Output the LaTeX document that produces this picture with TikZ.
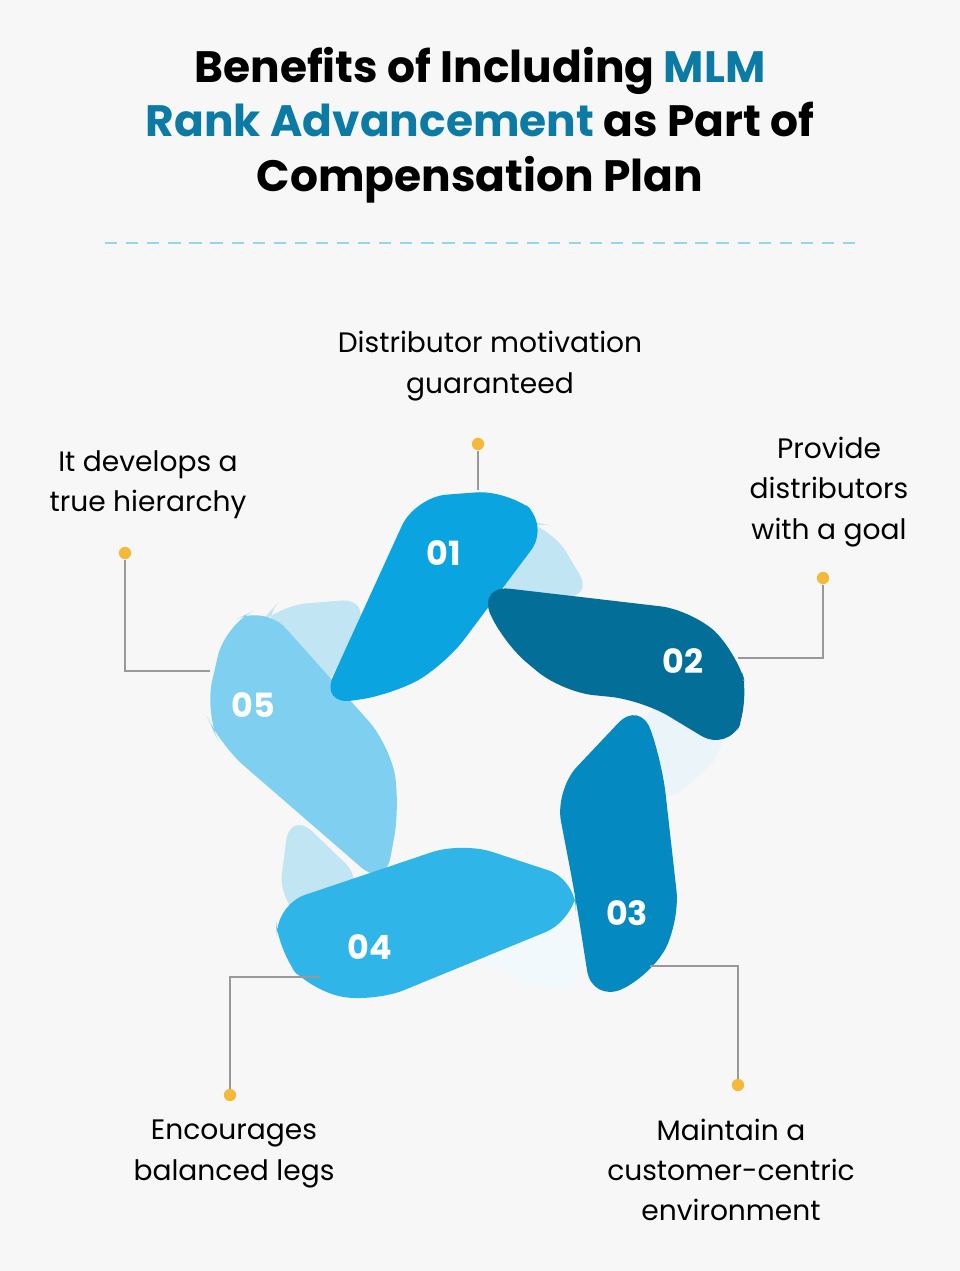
\documentclass[tikz,border=0pt]{standalone}
\usepackage{fontspec}
\setmainfont{Poppins}
\usetikzlibrary{positioning}
\definecolor{bgcol}{HTML}{F7F7F7}
\definecolor{rankblue}{HTML}{0B7BA6}
\definecolor{bandA}{HTML}{0AA5E0}
\definecolor{bandB}{HTML}{036F99}
\definecolor{bandC}{HTML}{0589C1}
\definecolor{bandD}{HTML}{2FB5E8}
\definecolor{bandE}{HTML}{7FD0F0}
\definecolor{backcol}{HTML}{C2E5F3}
\definecolor{dotcol}{HTML}{F5B93A}
\tikzset{
  band/.style={rounded corners=18pt, draw=none},
  num/.style={text=white, font=\bfseries\fontsize{19}{22}\selectfont},
  label/.style={align=center, font=\fontsize{16}{23}\selectfont},
  lead/.style={draw=gray!80, line width=0.8pt},
  dot/.style={circle, fill=dotcol, inner sep=0pt, minimum size=7pt}
}
\begin{document}
\begin{tikzpicture}[x=0.02cm, y=-0.02cm]
    % Background
    \fill[bgcol] (0,0) rectangle (960,1271);
    \useasboundingbox (0,0) rectangle (960,1271);

    % Title
    \node[align=center, font=\bfseries\fontsize{25}{31}\selectfont] (title) at (480,125)
      {Benefits of Including \textcolor{rankblue}{MLM}\\
       \textcolor{rankblue}{Rank Advancement} as Part of\\
       Compensation Plan};
    \draw[dashed, line width=1.5pt, color=bandA!45, dash pattern=on 7pt off 5pt] (105,243) -- (855,243);

    % Back parts of the ribbons
    \fill[backcol, band] (480,585) -- (520,520) -- (550,525) -- (595,600) -- cycle;
    \fill[backcol, band] (258,625) -- (275,606) -- (372,598) -- (320,700) -- cycle;
    \fill[backcol!80!bandB!20, band] (640,700) -- (722,712) -- (730,748) -- (660,810) -- cycle;
    \fill[backcol!85!bandC!15, band] (470,955) -- (560,905) -- (582,940) -- (585,985) -- (555,997) -- cycle;
    \fill[backcol, band] (290,810) -- (368,885) -- (312,925) -- (278,905) -- cycle;

    % Ribbons
    \fill[bandE, band] (205,712) -- (225,625) -- (265,605) -- (390,745) -- (400,805) -- (385,888) -- (220,745) -- cycle;
    \fill[bandA, band] (320,705) -- (415,497) -- (508,490) -- (550,525) -- (445,665) -- (392,695) -- cycle;
    \fill[bandD, band] (275,905) -- (462,842) -- (578,880) -- (575,920) -- (375,1002) -- (312,992) -- (278,952) -- cycle;
    \fill[bandC, band] (555,790) -- (640,700) -- (662,762) -- (680,922) -- (650,977) -- (592,1002) -- (576,900) -- cycle;
    \fill[bandB, band] (478,585) -- (692,610) -- (737,652) -- (750,702) -- (728,752) -- (642,700) -- (562,692) -- (502,642) -- cycle;

    % Numbers
    \node[num] (n1) at (444,553) {01};
    \node[num] (n2) at (683,661) {02};
    \node[num] (n3) at (627,913) {03};
    \node[num] (n4) at (370,947) {04};
    \node[num] (n5) at (253,705) {05};

    % Callout points
    \coordinate (e1) at (478,490);
    \coordinate (e2) at (738,658);
    \coordinate (e3) at (650,966);
    \coordinate (e4) at (320,977);
    \coordinate (e5) at (210,671);
    \node[dot] (d1) at (478,444) {};
    \node[dot] (d2) at (823,578) {};
    \node[dot] (d3) at (738,1085) {};
    \node[dot] (d4) at (230,1095) {};
    \node[dot] (d5) at (125,553) {};
    \draw[lead] (d1) -- (e1);
    \draw[lead] (d2) |- (e2);
    \draw[lead] (d3) |- (e3);
    \draw[lead] (d4) |- (e4);
    \draw[lead] (d5) |- (e5);

    % Labels
    \node[label] (t1) at (490,366) {Distributor motivation\\guaranteed};
    \node[label] (t2) at (829,492) {Provide\\distributors\\with a goal};
    \node[label] (t3) at (731,1170) {Maintain a\\customer-centric\\environment};
    \node[label] (t4) at (234,1154) {Encourages\\balanced legs};
    \node[label] (t5) at (148,485) {It develops a\\true hierarchy};
\end{tikzpicture}
\end{document}
